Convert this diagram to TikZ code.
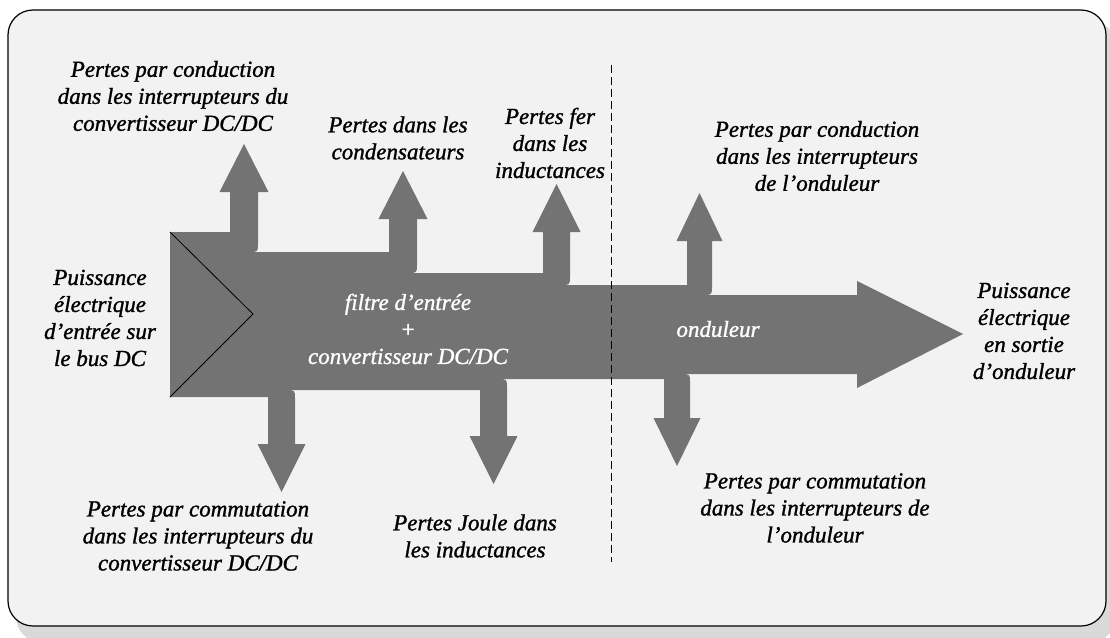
\documentclass[tikz,border=0pt]{standalone}
\usepackage{fontspec}
\setmainfont[ItalicFeatures={FakeBold=1.2}]{Liberation Serif}
\usepackage{tikz}
\usetikzlibrary{positioning}
\definecolor{flowgray}{RGB}{115,115,115}
\definecolor{panel}{RGB}{242,242,242}
\definecolor{panelshadow}{RGB}{217,217,217}
\tikzset{
    flow/.style={
        fill=flowgray,
        draw=none
    },
    loss/.style={
        align=center,
        inner sep=0pt,
        font=\fontsize{23}{27}\selectfont\itshape
    },
    inside/.style={
        loss,
        text=white
    },
    divider/.style={
        dash pattern=on 8pt off 4pt,
        line width=0.9pt
    }
}

\begin{document}
\begin{tikzpicture}[x=1pt, y=-1pt]
    \useasboundingbox (0,0) rectangle (1110,637);

    % Panel
    \fill[panelshadow, rounded corners=25pt] (16,21) rectangle (1116,642);
    \filldraw[fill=panel, draw=black, line width=1.2pt, rounded corners=25pt] (8,10) rectangle (1106,626);

    % Main flow
    \fill[flow] (170,232) -- (233,232) -- (233,252) -- (392,252) -- (392,273)
        -- (546,273) -- (546,285) -- (690,285) -- (690,295) -- (857,295)
        -- (857,281) -- (963,334) -- (857,388) -- (857,374) -- (667,374)
        -- (667,379) -- (483,379) -- (483,390) -- (271,390) -- (271,397)
        -- (170,397) -- cycle;

    % Losses going up
    \foreach \a/\b/\y/\h in {230/258/252/192, 389/417/273/219, 543/570/285/232, 687/712/295/241}
        \fill[flow] (\a,{\y+3}) -- (\a,\h) -- ({\a-10.5},\h) -- ({(\a+\b)/2},{\h-48})
            -- ({\b+10.5},\h) -- (\b,\h) -- (\b,{\y-9}) .. controls (\b,\y) .. ({\b-9},\y)
            -- ({\b-9},{\y+3}) -- cycle;

    % Losses going down
    \foreach \a/\b/\y/\h in {268/295/390/444, 480/507/379/436, 664/690/374/418}
        \fill[flow] (\a,{\y-3}) -- ({\b-9},{\y-3}) -- ({\b-9},\y) .. controls (\b,\y) .. (\b,{\y+9})
            -- (\b,\h) -- ({\b+10.5},\h) -- ({(\a+\b)/2},{\h+48}) -- ({\a-10.5},\h)
            -- (\a,\h) -- cycle;

    % Input notch
    \draw[line width=0.8pt] (170,232) -- (253,314) -- (170,397);

    % Stage boundary
    \draw[divider] (611,65) -- (611,562);

    % Stages
    \node[inside] (etageDC) at (408,329) {filtre d’entrée\\+\\convertisseur DC/DC};
    \node[inside] (etageOnd) at (718,329) {onduleur};

    % Input / output
    \node[loss] (entree) at (100,318) {Puissance\\électrique\\d’entrée sur\\le bus DC};
    \node[loss] (sortie) at (1024,331) {Puissance\\électrique\\en sortie\\d’onduleur};

    % Losses
    \node[loss] (condDC) at (173,96) {Pertes par conduction\\dans les interrupteurs du\\convertisseur DC/DC};
    \node[loss] (condens) at (398,138) {Pertes dans les\\condensateurs};
    \node[loss] (fer) at (550,143) {Pertes fer\\dans les\\inductances};
    \node[loss] (condOnd) at (817,156) {Pertes par conduction\\dans les interrupteurs\\de l’onduleur};
    \node[loss] (commDC) at (198,536) {Pertes par commutation\\dans les interrupteurs du\\convertisseur DC/DC};
    \node[loss] (joule) at (475,536) {Pertes Joule dans\\les inductances};
    \node[loss] (commOnd) at (815,508) {Pertes par commutation\\dans les interrupteurs de\\l’onduleur};
\end{tikzpicture}
\end{document}
